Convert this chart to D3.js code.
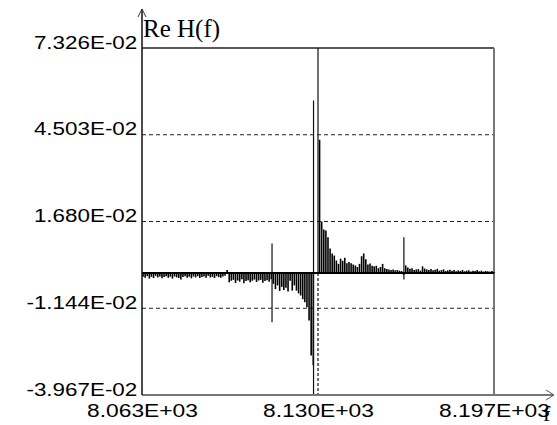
<!DOCTYPE html>
<html>
<head>
<meta charset="utf-8">
<script src="https://cdn.jsdelivr.net/npm/d3@7"></script>
<style>
  body { margin: 0; background: #fff; }
  svg { display: block; }
</style>
</head>
<body>
<div id="chart"></div>
<script>
// axis ticks as printed on the instrument screen
const yTicks = [0.07326, 0.04503, 0.01680, -0.01144, -0.03967];
const yTickLabels = ['7.326E-02', '4.503E-02', '1.680E-02', '-1.144E-02', '-3.967E-02'];
const gridValues = [0.04503, 0.01680, -0.01144];
const xTicks = [8063, 8130, 8197];
const xTickLabels = ['8.063E+03', '8.130E+03', '8.197E+03'];

// spectrum lines: first line at f0, one every df Hz
const f0 = 8063.4;
const df = 0.8;
const reValues = [
  -0.0012, -0.0015, -0.0010, -0.0018, -0.0012, -0.0016, -0.0009, -0.0014, -0.0011, -0.0017,
  -0.0013, -0.0010, -0.0015, -0.0012, -0.0018, -0.0011, -0.0014, -0.0016, -0.0021, -0.0013,
  -0.0010, -0.0015, -0.0012, -0.0017, -0.0011, -0.0014, -0.0010, -0.0016, -0.0013, -0.0011,
  -0.0015, -0.0009, -0.0014, -0.0012, -0.0016, -0.0010, -0.0013, -0.0015, -0.0011, -0.0009,
  0.0010, -0.0030, -0.0025, -0.0022, -0.0032, -0.0024, -0.0028, -0.0020, -0.0033, -0.0026,
  -0.0023, -0.0030, -0.0025, -0.0021, -0.0029, -0.0024, -0.0022, -0.0031, -0.0026, -0.0023,
  -0.0028, -0.0020, -0.0035, -0.0052, -0.0040, -0.0058, -0.0045, -0.0055, -0.0048, -0.0060,
  -0.0025, -0.0057, -0.0040, -0.0057, -0.0066, -0.0073, -0.0085, -0.0095, -0.0111, -0.0154,
  -0.0268, -0.0300, 0.0000, 0.0000, 0.0434, 0.0168, 0.0142, 0.0139, 0.0117, 0.0080,
  0.0064, 0.0057, 0.0041, 0.0030, 0.0047, 0.0040, 0.0050, 0.0032, 0.0036, 0.0032,
  0.0028, 0.0025, 0.0020, 0.0030, 0.0055, 0.0064, 0.0045, 0.0028, 0.0031, 0.0024,
  0.0022, 0.0024, 0.0016, 0.0020, 0.0030, 0.0016, 0.0013, 0.0012, 0.0010, 0.0012,
  0.0009, 0.0010, 0.0008, 0.0007, -0.0006, 0.0025, 0.0018, 0.0014, 0.0016, 0.0010,
  0.0012, 0.0013, 0.0008, 0.0022, 0.0015, 0.0012, 0.0010, 0.0013, 0.0009, 0.0011,
  0.0014, 0.0008, 0.0010, 0.0012, 0.0007, 0.0009, 0.0011, 0.0008, 0.0010, 0.0006,
  0.0009, 0.0007, 0.0010, 0.0006, 0.0008, 0.0009, 0.0005, 0.0008, 0.0007, 0.0010,
  0.0006, 0.0008, 0.0005, 0.0007, 0.0006, 0.0005, 0.0007, 0.0004
];

// single lines that run through zero (low end to high end)
const spikeFreqs = [8112.5, 8128.3, 8162.7];
const spikeHigh = [0.0096, 0.0562, 0.0117];
const spikeLow = [-0.0160, -0.0397, -0.0021];

// centre cursor
const cursorFreq = 8130;

const width = 557, height = 425;
const svg = d3.select('#chart').append('svg')
  .attr('width', width)
  .attr('height', height);

const x = d3.scaleLinear().domain([8063, 8197]).range([142, 494]);
const y = d3.scaleLinear().domain([-0.03967, 0.07326]).range([395, 48]);

// dashed grid
svg.append('g')
  .selectAll('line')
  .data(gridValues)
  .enter().append('line')
  .attr('x1', x(8063)).attr('x2', x(8197))
  .attr('y1', d => y(d)).attr('y2', d => y(d))
  .attr('stroke', '#222')
  .attr('stroke-width', 1)
  .attr('stroke-dasharray', '4,3');

// frame: top and right
svg.append('line')
  .attr('x1', x(8063)).attr('x2', x(8197))
  .attr('y1', y(0.07326)).attr('y2', y(0.07326))
  .attr('stroke', '#222').attr('stroke-width', 1.5);
svg.append('line')
  .attr('x1', x(8197)).attr('x2', x(8197))
  .attr('y1', y(0.07326)).attr('y2', y(-0.03967))
  .attr('stroke', '#777').attr('stroke-width', 2);

// spectrum bars
const bars = reValues.map((v, i) => ({ f: f0 + i * df, v: v }));
svg.append('g')
  .selectAll('line')
  .data(bars)
  .enter().append('line')
  .attr('x1', d => x(d.f)).attr('x2', d => x(d.f))
  .attr('y1', y(0))
  .attr('y2', d => y(d.v))
  .attr('stroke', '#000')
  .attr('stroke-width', 1.6);

// through-zero spikes
svg.append('g')
  .selectAll('line')
  .data(spikeFreqs)
  .enter().append('line')
  .attr('x1', d => x(d)).attr('x2', d => x(d))
  .attr('y1', (d, i) => y(spikeHigh[i]))
  .attr('y2', (d, i) => y(Math.max(spikeLow[i], -0.03967)))
  .attr('stroke', '#111')
  .attr('stroke-width', 1.2);

// cursor: solid above zero, dotted below
svg.append('line')
  .attr('x1', x(cursorFreq)).attr('x2', x(cursorFreq))
  .attr('y1', y(0.07326)).attr('y2', y(0))
  .attr('stroke', '#111').attr('stroke-width', 1.2);
svg.append('line')
  .attr('x1', x(cursorFreq)).attr('x2', x(cursorFreq))
  .attr('y1', y(0)).attr('y2', y(-0.03967))
  .attr('stroke', '#111').attr('stroke-width', 1.2)
  .attr('stroke-dasharray', '3,2');

// zero line
svg.append('line')
  .attr('x1', x(8063)).attr('x2', x(8197))
  .attr('y1', y(0)).attr('y2', y(0))
  .attr('stroke', '#000').attr('stroke-width', 2);

// y axis
const yAxis = svg.append('g')
  .attr('transform', `translate(${x(8063)},0)`)
  .call(d3.axisLeft(y)
    .tickValues(yTicks)
    .tickSize(0)
    .tickPadding(4)
    .tickFormat((d, i) => yTickLabels[i]));
yAxis.select('.domain').remove();
yAxis.selectAll('text')
  .attr('dy', 0)
  .attr('font-family', '"Liberation Sans", Arial, sans-serif')
  .attr('font-size', 19)
  .attr('fill', '#000')
  .attr('transform', 'scale(1.18,1)');

// x axis
const xAxis = svg.append('g')
  .attr('transform', `translate(0,${y(-0.03967)})`)
  .call(d3.axisBottom(x)
    .tickValues(xTicks)
    .tickSize(0)
    .tickPadding(9)
    .tickFormat((d, i) => xTickLabels[i]));
xAxis.select('.domain').remove();
xAxis.selectAll('text')
  .attr('font-family', '"Liberation Sans", Arial, sans-serif')
  .attr('font-size', 19)
  .attr('fill', '#000')
  .attr('transform', 'scale(1.2,1)')
  .attr('dy', '0.71em');

// axis lines with arrows
svg.append('line')
  .attr('x1', x(8063)).attr('x2', 553)
  .attr('y1', y(-0.03967)).attr('y2', y(-0.03967))
  .attr('stroke', '#777').attr('stroke-width', 2);
svg.append('path')
  .attr('d', `M546,${y(-0.03967) - 5}L554,${y(-0.03967)}L546,${y(-0.03967) + 5}`)
  .attr('fill', 'none').attr('stroke', '#555').attr('stroke-width', 1);
svg.append('line')
  .attr('x1', x(8063)).attr('x2', x(8063))
  .attr('y1', y(-0.03967)).attr('y2', 9)
  .attr('stroke', '#111').attr('stroke-width', 1.5);
svg.append('path')
  .attr('d', `M${x(8063) - 4},17L${x(8063)},9L${x(8063) + 4},17`)
  .attr('fill', 'none').attr('stroke', '#333').attr('stroke-width', 1);

// axis titles
svg.append('text')
  .attr('x', x(8063) + 1)
  .attr('y', 37)
  .attr('font-family', '"Liberation Serif", "Times New Roman", serif')
  .attr('font-size', 25)
  .text('Re H(f)');
svg.append('text')
  .attr('x', 543)
  .attr('y', 421)
  .attr('font-family', '"Liberation Serif", "Times New Roman", serif')
  .attr('font-size', 22)
  .text('f');
</script>
</body>
</html>
